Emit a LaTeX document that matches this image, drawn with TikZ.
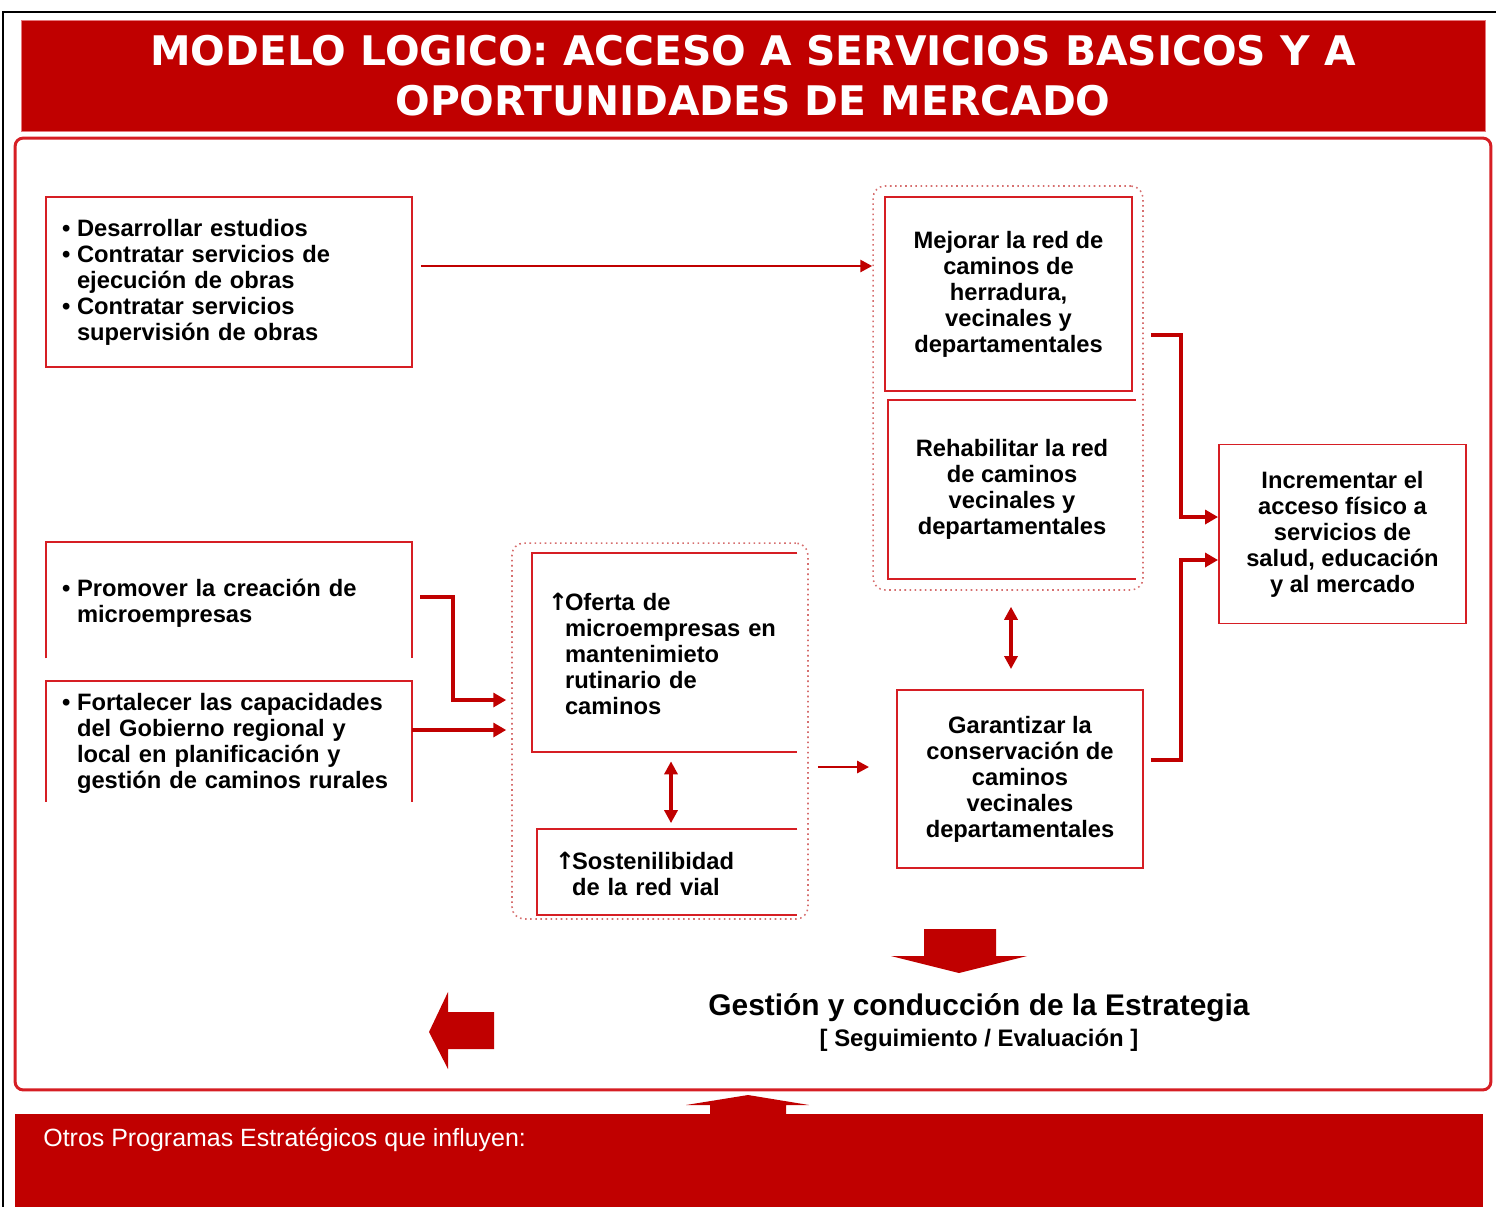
\documentclass[tikz,border=0pt]{standalone}
\usepackage{fontspec}
\setmainfont{Liberation Sans}
\newfontfamily\titlefont{DejaVu Sans}
\usetikzlibrary{arrows.meta}
\definecolor{rojo}{RGB}{192,0,0}
\definecolor{rojoborde}{RGB}{214,30,36}
\definecolor{rojopunto}{RGB}{214,110,110}
\newcommand{\punto}{\makebox[0.3cm][l]{•}}
\newcommand{\sangria}{\hspace*{0.3cm}}
\newcommand{\subir}{\makebox[0.34cm][l]{\titlefont\bfseries ↑}}
\newcommand{\sangriab}{\hspace*{0.34cm}}
\begin{document}
\begin{tikzpicture}
[x=0.02cm,y=-0.02cm,
  boxdecorate/.style={draw=rojoborde,line width=1.1pt,inner sep=0pt,align=center,%
    font=\bfseries\fontsize{13.5}{14.8}\selectfont},
  opendecorate/.style={inner sep=0pt,inner xsep=0.32cm,align=left,%
    font=\bfseries\fontsize{13.5}{14.8}\selectfont},
  borderline/.style={draw=rojoborde,line width=1.1pt},
  groupdecorate/.style={draw=rojopunto,dotted,line width=0.9pt,rounded corners=0.24cm},
  linkdecorate/.style={draw=rojo,line width=2.3pt,-{Triangle[length=0.26cm,width=0.28cm]}},
  thinlinkdecorate/.style={draw=rojo,line width=1.6pt,-{Triangle[length=0.24cm,width=0.24cm]}},
  dlinkdecorate/.style={draw=rojo,line width=2.6pt,{Triangle[length=0.26cm,width=0.26cm]}-{Triangle[length=0.26cm,width=0.26cm]}}]
\useasboundingbox (0,0) rectangle (1496,1206);
%% frames and title
\draw[black,line width=1.2pt] (3,1210) -- (3,12) -- (1500,12);
\node (titulo) at (753,75.5) [fill=rojo,draw=rojoborde!60,minimum width=29.28cm,minimum height=2.22cm,%
  text=white,align=center,font=\titlefont\bfseries\fontsize{23.2}{28.45}\selectfont]
  {MODELO LOGICO: ACCESO A SERVICIOS BASICOS Y A\\OPORTUNIDADES DE MERCADO};
\node (marco) at (753,614) [draw=rojoborde,line width=1.7pt,rounded corners=0.16cm,%
  minimum width=29.52cm,minimum height=19.04cm] {};
\node (otros) at (749,1170) [fill=rojo,minimum width=29.36cm,minimum height=2.24cm] {};
\node (otrostexto) at (43,1140) [anchor=west,inner sep=0pt,text=white,font=\fontsize{14.2}{16}\selectfont]
  {Otros Programas Estratégicos que influyen:};
%% groups
\node (g1) at (1008,388) [groupdecorate,minimum width=5.4cm,minimum height=8.08cm] {};
\node (g2) at (660,731) [groupdecorate,minimum width=5.92cm,minimum height=7.52cm] {};
%% boxes
\node (a) at (229,282) [boxdecorate,minimum width=7.32cm,minimum height=3.4cm,%
  inner xsep=0.32cm,text width=6.68cm,align=left]
  {\punto Desarrollar estudios\\ \punto Contratar servicios de\\ \sangria ejecución de obras\\
   \punto Contratar servicios\\ \sangria supervisión de obras};
\node (b1) at (1008.5,294) [boxdecorate,minimum width=4.94cm,minimum height=3.88cm]
  {Mejorar la red de\\caminos de\\herradura,\\vecinales y\\departamentales};
\node (b2) at (1012,489.5) [boxdecorate,draw=none,minimum width=4.92cm,minimum height=3.54cm]
  {Rehabilitar la red\\de caminos\\vecinales y\\departamentales};
\node (c) at (1020,779) [boxdecorate,minimum width=4.92cm,minimum height=3.56cm]
  {Garantizar la\\conservación de\\caminos\\vecinales\\departamentales};
\node (d) at (1342.5,534) [boxdecorate,minimum width=4.94cm,minimum height=3.58cm]
  {Incrementar el\\acceso físico a\\servicios de\\salud, educación\\y al mercado};
\node (e) at (664.5,654) [opendecorate,minimum width=5.3cm,minimum height=3.88cm,text width=4.66cm]
  {\subir Oferta de\\ \sangriab microempresas en\\ \sangriab mantenimieto\\ \sangriab rutinario de\\ \sangriab caminos};
\node (f) at (667,874) [opendecorate,inner xsep=0.36cm,minimum width=5.2cm,minimum height=1.7cm,text width=4.48cm]
  {\subir Sostenilibidad\\ \sangriab de la red vial};
\node (l1) at (229,603) [opendecorate,minimum width=7.32cm,minimum height=2.28cm,text width=6.68cm]
  {\punto Promover la creación de\\ \sangria microempresas};
\node (l2) at (229,743) [opendecorate,minimum width=7.32cm,minimum height=2.3cm,text width=6.68cm]
  {\punto Fortalecer las capacidades\\ \sangria del Gobierno regional y\\ \sangria local en planificación y\\
   \sangria gestión de caminos rurales};
%% open borders
\draw[borderline] (b2.north east) -- (b2.north west) -- (b2.south west) -- (b2.south east);
\draw[borderline] ([yshift=0.08cm]e.north east) -- ([yshift=0.08cm]e.north west) -- ([yshift=-0.02cm]e.south west) -- ([yshift=-0.02cm]e.south east);
\draw[borderline] ([yshift=0.04cm]f.north east) -- ([yshift=0.04cm]f.north west) -- ([yshift=0.04cm]f.south west) -- ([yshift=0.04cm]f.south east);
\draw[borderline] ([yshift=0.04cm]l1.south west) -- ([yshift=0.08cm]l1.north west) -- ([yshift=0.08cm]l1.north east) -- ([yshift=0.04cm]l1.south east);
\draw[borderline] ([yshift=-0.02cm]l2.south west) -- ([yshift=0.08cm]l2.north west) -- ([yshift=0.08cm]l2.north east) -- ([yshift=-0.02cm]l2.south east);
%% connectors
\draw[thinlinkdecorate] ([xshift=0.16cm,yshift=0.32cm]a.east) -- ([yshift=0.32cm]a.east -| g1.west);
\draw[linkdecorate] ([xshift=0.14cm,yshift=1.06cm]g1.east) -- ++(0.6cm,0) |- ([yshift=0.34cm]d.west);
\draw[linkdecorate] ([xshift=0.14cm,yshift=0.38cm]c.east) -- ++(0.6cm,0) |- ([yshift=-0.52cm]d.west);
\draw[linkdecorate] ([xshift=0.16cm,yshift=0.12cm]l1.east) -- ++(0.66cm,0) |- ([xshift=-0.1cm,yshift=0.62cm]g2.west);
\draw[linkdecorate,shorten >=0.1cm] ([yshift=0.26cm]l2.east) -- ([yshift=0.26cm]l2.east -| g2.west);
\draw[thinlinkdecorate,shorten <=0.18cm,shorten >=0.54cm] ([yshift=0.24cm]c.west -| g2.east) -- ([yshift=0.24cm]c.west);
\draw[dlinkdecorate,shorten <=0.2cm,shorten >=0.16cm] ([xshift=0.13cm]e.south) -- ([xshift=0.13cm]e.south |- f.north);
\draw[dlinkdecorate,shorten <=0.32cm,shorten >=0.4cm] ([xshift=0.06cm]g1.south) -- ([xshift=0.06cm]g1.south |- c.north);
%% block arrows
\fill[rojo] (924,929) -- (996,929) -- (996,956) -- (1027,956) -- (959,973) -- (891,956) -- (924,956) -- cycle;
\fill[rojo] (494,1012) -- (448,1012) -- (448,992) -- (429,1032) -- (448,1069) -- (448,1049) -- (494,1049) -- cycle;
\fill[rojo] (710,1114) -- (710,1105) -- (686,1105) -- (748,1095) -- (809,1105) -- (786,1105) -- (786,1114) -- cycle;
%% strategy text
\node (gestion) at (979,1008) [font=\bfseries\fontsize{17}{19}\selectfont] {Gestión y conducción de la Estrategia};
\node (seguimiento) at (979,1040) [font=\bfseries\fontsize{13.6}{15}\selectfont] {[ Seguimiento / Evaluación ]};
\end{tikzpicture}
\end{document}
